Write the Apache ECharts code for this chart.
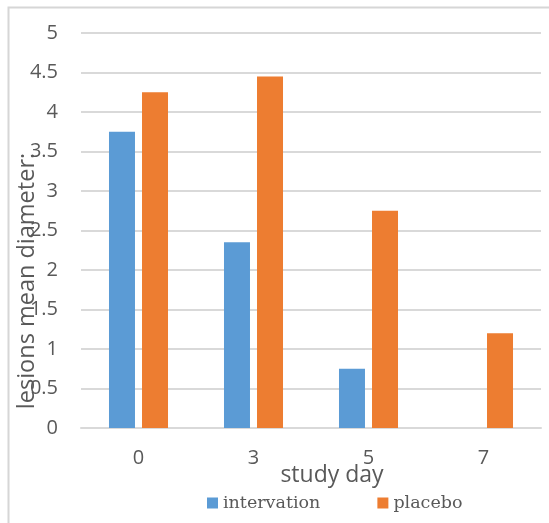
<!DOCTYPE html>
<html>
<head>
<meta charset="utf-8">
<script src="https://cdn.jsdelivr.net/npm/echarts@6/dist/echarts.min.js"></script>
<style>
  html, body { margin: 0; padding: 0; background: #fff; }
  #chart { width: 549px; height: 523px; }
</style>
</head>
<body>
<div id="chart"></div>
<script>
// study days on the x axis
const days = ['0', '3', '5', '7'];
// lesion mean diameter per day
const intervation = [3.75, 2.35, 0.75, 0];
const placebo = [4.25, 4.45, 2.75, 1.2];

const gray = '#595959';
const lineGray = '#d9d9d9';

const chart = echarts.init(document.getElementById('chart'));

chart.setOption({
  animation: false,
  backgroundColor: '#fff',
  grid: { left: 81, right: 8, top: 33, bottom: 95 },
  legend: {
    bottom: 6,
    left: 202,
    itemWidth: 11,
    itemHeight: 11,
    itemGap: 57,
    icon: 'rect',
    textStyle: { fontFamily: 'DejaVu Serif', fontSize: 17.5, color: gray },
    data: ['intervation', 'placebo']
  },
  xAxis: {
    type: 'category',
    data: days,
    axisLine: { lineStyle: { color: lineGray, width: 2 } },
    axisTick: { show: false },
    axisLabel: { fontFamily: 'Open Sans', fontSize: 20, color: gray, margin: 20 }
  },
  yAxis: {
    type: 'value',
    min: 0,
    max: 5,
    interval: 0.5,
    axisLine: { show: false },
    axisTick: { show: false },
    splitLine: { lineStyle: { color: lineGray, width: 2 } },
    axisLabel: { fontFamily: 'Open Sans', fontSize: 20, color: gray, margin: 23 }
  },
  series: [
    {
      name: 'intervation',
      type: 'bar',
      data: intervation,
      barWidth: 26,
      barGap: '27%',
      itemStyle: { color: '#5b9bd5' }
    },
    {
      name: 'placebo',
      type: 'bar',
      data: placebo,
      barWidth: 26,
      itemStyle: { color: '#ed7d31' }
    }
  ],
  graphic: [
    {
      type: 'rect',
      silent: true,
      shape: { x: 8.5, y: 7.5, width: 600, height: 600 },
      style: { fill: 'none', stroke: '#d6d6d6', lineWidth: 2 }
    },
    {
      type: 'text',
      x: 332,
      y: 475,
      style: {
        text: 'study day',
        fontFamily: 'Open Sans',
        fontSize: 23,
        fill: gray,
        align: 'center',
        verticalAlign: 'middle'
      }
    },
    {
      type: 'text',
      x: 27,
      y: 281,
      rotation: Math.PI / 2,
      style: {
        text: 'lesions mean diameter:',
        fontFamily: 'Open Sans',
        fontSize: 23.5,
        fill: gray,
        align: 'center',
        verticalAlign: 'middle'
      }
    }
  ]
});
</script>
</body>
</html>
